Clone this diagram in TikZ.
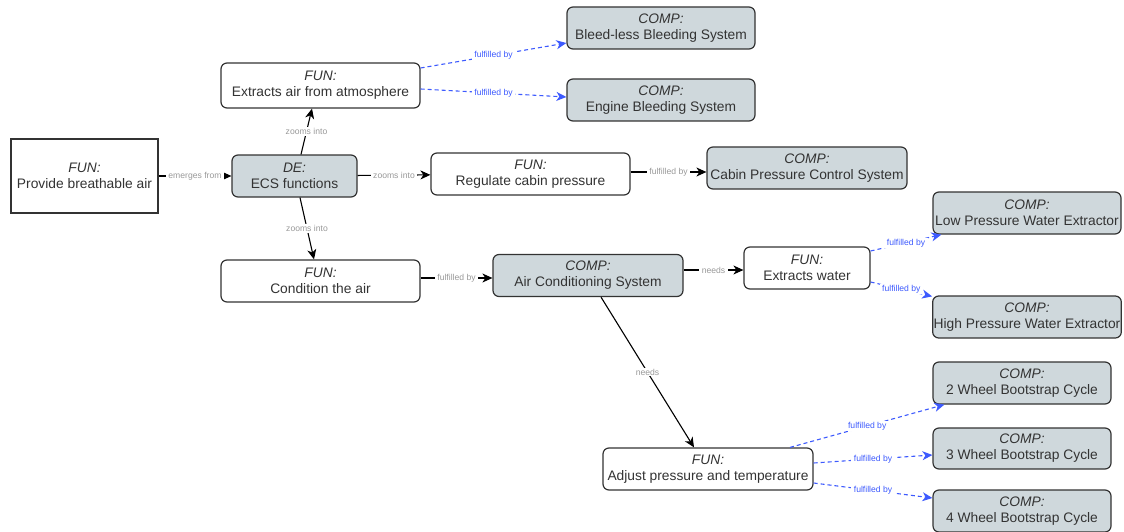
\documentclass[tikz,border=0pt]{standalone}
\usepackage{fontspec}
\setmainfont{Liberation Sans}
\usetikzlibrary{arrows.meta}
\definecolor{boxline}{HTML}{333333}
\definecolor{compfill}{HTML}{CFD8DC}
\definecolor{linkblue}{HTML}{3D5AFE}
\definecolor{labgray}{HTML}{999999}
\tikzset{
  fun/.style={draw=boxline, line width=1.2pt, rounded corners=6pt, fill=white, text=boxline, align=center, inner sep=1pt, minimum height=42pt, font=\fontsize{13.8}{16}\selectfont},
  comp/.style={fun, fill=compfill},
  link/.style={-{Stealth[length=10pt,width=9pt,inset=3pt]}, line width=1.1pt, draw=black},
  fulfil/.style={link, draw=linkblue, dash pattern=on 4pt off 3pt},
  lbl/.style={midway, fill=white, inner xsep=2.5pt, inner ysep=1pt, font=\fontsize{8.6}{9}\selectfont, text=labgray},
  bluelbl/.style={lbl, text=linkblue}
}
\begin{document}
\begin{tikzpicture}[x=1pt, y=-1pt]
  \useasboundingbox (0,0) rectangle (1124,532);
  \node[fun, sharp corners, line width=1.1pt, minimum width=147pt, minimum height=74pt] (pba) at (84.5,176) {\textit{FUN:}\\Provide breathable air};
  \node[comp, minimum width=125pt] (ecs) at (294.5,176) {\textit{DE:}\\ECS functions};
  \node[fun, minimum width=199pt, minimum height=45pt] (ext) at (320.5,85.5) {\textit{FUN:}\\Extracts air from atmosphere};
  \node[fun, minimum width=199pt] (cond) at (320.5,281) {\textit{FUN:}\\Condition the air};
  \node[fun, minimum width=199pt] (reg) at (530.5,174) {\textit{FUN:}\\Regulate cabin pressure};
  \node[comp, minimum width=188pt] (bleed) at (661,28) {\textit{COMP:}\\Bleed-less Bleeding System};
  \node[comp, minimum width=188pt] (engine) at (661,100) {\textit{COMP:}\\Engine Bleeding System};
  \node[comp, minimum width=200pt] (cpcs) at (807,168) {\textit{COMP:}\\Cabin Pressure Control System};
  \node[comp, minimum width=190pt] (acs) at (588,275.5) {\textit{COMP:}\\Air Conditioning System};
  \node[fun, minimum width=126pt] (extw) at (807,268) {\textit{FUN:}\\Extracts water};
  \node[comp, minimum width=188pt] (lpwe) at (1027,213) {\textit{COMP:}\\Low Pressure Water Extractor};
  \node[comp, minimum width=188pt] (hpwe) at (1027,317) {\textit{COMP:}\\High Pressure Water Extractor};
  \node[fun, minimum width=210pt] (adj) at (708,469) {\textit{FUN:}\\Adjust pressure and temperature};
  \node[comp, minimum width=178pt] (w2) at (1022,383) {\textit{COMP:}\\2 Wheel Bootstrap Cycle};
  \node[comp, minimum width=178pt, minimum height=41pt] (w3) at (1022,448.5) {\textit{COMP:}\\3 Wheel Bootstrap Cycle};
  \node[comp, minimum width=178pt] (w4) at (1022,511) {\textit{COMP:}\\4 Wheel Bootstrap Cycle};

  \draw[link] (pba) -- (ecs) node[lbl]{emerges from};
  \draw[link] ([xshift=6.5pt]ecs.north) -- ([xshift=-8.5pt]ext.south) node[lbl]{zooms into};
  \draw[link] ([xshift=5.5pt]ecs.south) -- ([xshift=-6.5pt]cond.north) node[lbl]{zooms into};
  \draw[link] (ecs) -- (reg) node[lbl]{zooms into};
  \draw[fulfil] ([yshift=17.5pt]ext.east) -- ([yshift=-15pt]bleed.west) node[bluelbl]{fulfilled by};
  \draw[fulfil] ([yshift=-3.5pt]ext.east) -- ([yshift=3pt]engine.west) node[bluelbl]{fulfilled by};
  \draw[link] ([yshift=2pt]reg.east) -- ([yshift=-4pt]cpcs.west) node[lbl]{fulfilled by};
  \draw[link] ([yshift=3pt]cond.east) -- ([yshift=-2.5pt]acs.west) node[lbl]{fulfilled by};
  \draw[link] ([yshift=5.5pt]acs.east) -- ([yshift=-2pt]extw.west) node[lbl]{needs};
  \draw[link] ([xshift=13pt]acs.south) -- ([xshift=-14pt]adj.north) node[lbl]{needs};
  \draw[fulfil] ([yshift=17pt]extw.east) -- ([xshift=9pt]lpwe.south west) node[bluelbl]{fulfilled by};
  \draw[fulfil] ([yshift=-14pt]extw.east) -- ([yshift=-1pt]hpwe.north west) node[bluelbl]{fulfilled by};
  \draw[fulfil] ([xshift=82pt]adj.north) -- ([xshift=12pt]w2.south west) node[bluelbl]{fulfilled by};
  \draw[fulfil] ([yshift=6pt]adj.east) -- ([yshift=-6.5pt]w3.west) node[bluelbl]{fulfilled by};
  \draw[fulfil] ([yshift=-14pt]adj.east) -- ([yshift=13pt]w4.west) node[bluelbl]{fulfilled by};
\end{tikzpicture}
\end{document}
